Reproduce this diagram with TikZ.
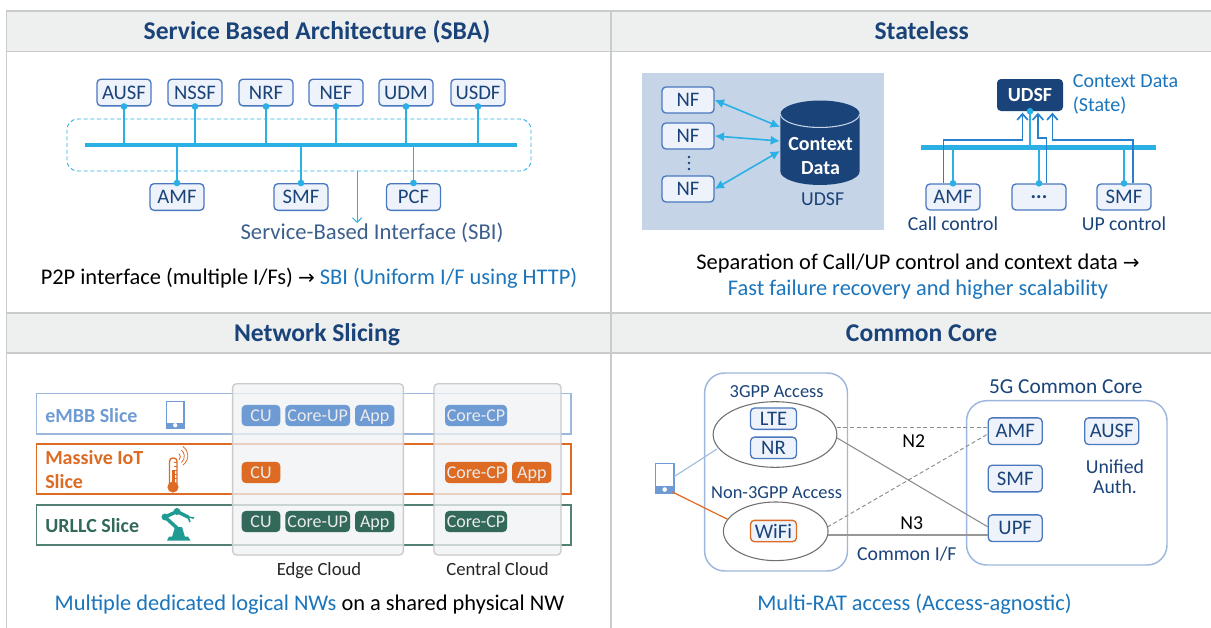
\documentclass[tikz,border=0pt]{standalone}
\usepackage{fontspec}
\setmainfont{Carlito}
\newfontfamily\arrowfont{DejaVu Sans}
\usetikzlibrary{arrows.meta,shapes.geometric,calc}
\definecolor{navy}{HTML}{1A4379}
\definecolor{headfill}{HTML}{EEF0F0}
\definecolor{cloudfill}{HTML}{F1F2F4}
\definecolor{rulegrey}{HTML}{C9CBCC}
\definecolor{busblue}{HTML}{2BB0E6}
\definecolor{txtblue}{HTML}{1A75BC}
\definecolor{wireblue}{HTML}{2680CC}
\definecolor{boxedge}{HTML}{4A78BE}
\definecolor{boxfill}{HTML}{EEF3FB}
\definecolor{panelblue}{HTML}{C5D4E6}
\definecolor{softblue}{HTML}{9DB8DC}
\definecolor{embb}{HTML}{6F9BD4}
\definecolor{iot}{HTML}{DD6B24}
\definecolor{urllc}{HTML}{33695B}
\definecolor{teal}{HTML}{1F9B93}
\definecolor{linegrey}{HTML}{8C8C8C}
\tikzset{
  x=0.75pt,y=-0.75pt,
  body/.style={font=\fontsize{14.8}{18}\selectfont,text=navy,inner sep=0pt},
  title/.style={font=\fontsize{19.2}{22}\selectfont\bfseries,text=navy,inner sep=0pt,text height=12.6pt,text depth=0pt},
  note/.style={font=\fontsize{16.8}{19.5}\selectfont,text=black,inner sep=0pt},
  noteline/.style={note,text height=11pt,text depth=0pt},
  nfbox/.style={draw=boxedge,fill=boxfill,line width=1pt,rounded corners=3pt,minimum width=40.5pt,minimum height=20pt,inner sep=0pt,text=navy,font=\fontsize{15.5}{18}\selectfont},
  sbox/.style={nfbox,minimum width=34.5pt,minimum height=16.2pt},
  tag/.style={rounded corners=3pt,minimum height=15.8pt,inner sep=0pt,text height=8.6pt,text depth=0pt,font=\fontsize{13.5}{16}\selectfont,text=white!92!black},
  dot/.style={circle,fill=busblue,inner sep=0pt,minimum size=5pt},
  conn/.style={draw=busblue,line width=1.3pt},
  ctrl/.style={draw=wireblue,line width=1.25pt,-{Straight Barb[length=4.5pt,width=8pt]}},
  twoway/.style={draw=busblue,line width=1.2pt,{Latex[length=7pt,width=7pt]}-{Latex[length=7pt,width=7pt]}},
  slice/.style={line width=1pt,fill=white},
  cloud/.style={draw=rulegrey,line width=1pt,fill=cloudfill,fill opacity=.75,rounded corners=3pt},
  accessel/.style={ellipse,draw=linegrey!80!black,line width=.8pt,inner sep=0pt},
  slicelab/.style={font=\fontsize{15}{18}\selectfont\bfseries,anchor=west,inner sep=0pt,align=left},
  cloudlab/.style={inner sep=0pt,font=\fontsize{14}{16}\selectfont,text=black!85,text height=9.2pt,text depth=0pt},
}
\newcommand{\rarrow}{{\arrowfont\fontsize{15}{16}\selectfont →}}
\begin{document}
\begin{tikzpicture}
\useasboundingbox (0,0) rectangle (1211,628);
\fill[white] (0,0) rectangle (1211,628);
% frame and headers
\fill[headfill] (6.5,11) rectangle (1211,51.5);
\fill[headfill] (6.5,313) rectangle (1211,353);
\draw[rulegrey,line width=1pt] (1211,11) -- (6.5,11) -- (6.5,628);
\draw[rulegrey,line width=1pt] (6.5,51.5) -- (1211,51.5);
\draw[rulegrey,line width=1pt] (6.5,313) -- (1211,313);
\draw[rulegrey,line width=1pt] (6.5,353) -- (1211,353);
\draw[rulegrey,line width=1pt] (611,11) -- (611,628);
\node[title] (t1) at (317,31) {Service Based Architecture (SBA)};
\node[title] (t2) at (921.6,31) {Stateless};
\node[title] (t3) at (317,333) {Network Slicing};
\node[title] (t4) at (921.6,333) {Common Core};

% ---------- SBA ----------
\draw[busblue,densely dashed,line width=.7pt,rounded corners=8pt] (67,119) rectangle (531,171);
\node[fill=busblue,inner sep=0pt,minimum height=3pt,minimum width=324pt] (bus) at (301,144.5) {};
\node[nfbox] (ausf) at (124,92.5) {AUSF};
\node[nfbox] (nssf) at (195,92.5) {NSSF};
\node[nfbox] (nrf) at (266,92.5) {NRF};
\node[nfbox] (nef) at (336,92.5) {NEF};
\node[nfbox] (udm) at (406,92.5) {UDM};
\node[nfbox] (usdf) at (478,92.5) {USDF};
\node[nfbox] (amf) at (177,197) {AMF};
\node[nfbox] (smf) at (301,197) {SMF};
\node[nfbox] (pcf) at (413.5,197) {PCF};
\foreach \n in {ausf,nssf,nrf,nef,udm,usdf}{
  \draw[conn] (\n.south) -- (\n.south |- bus.center);
  \node[dot] at (\n.south) {};
}
\foreach \n in {amf,smf,pcf}{
  \draw[conn] (\n.north) -- (\n.north |- bus.center);
  \node[dot] at (\n.north) {};
}
\node[body,font=\fontsize{17}{19}\selectfont,text=navy!85!white,text height=11.2pt,text depth=0pt] (sbi) at (372,232) {Service-Based Interface (SBI)};
\coordinate (sbitop) at (357,171);
\coordinate (sbiend) at (357,223);
\draw[busblue,line width=.7pt,-{Straight Barb[length=3.5pt,width=7pt]}] (sbitop) -- (sbiend);
\node[noteline] (p2p) at (309,277) {P2P interface (multiple I/Fs) \rarrow{} \textcolor{txtblue}{SBI (Uniform I/F using HTTP)}};

% ---------- Stateless ----------
\fill[panelblue] (642,73) rectangle (883.6,230);
\node[sbox,minimum width=39pt,minimum height=19.5pt] (nf1) at (688,100) {NF};
\node[sbox,minimum width=39pt,minimum height=19.5pt] (nf2) at (688,136) {NF};
\node[sbox,minimum width=39pt,minimum height=19.5pt] (nf3) at (688,189) {NF};
\fill[navy] (689,157) circle[radius=1.1pt] (689,163) circle[radius=1.1pt] (689,169) circle[radius=1.1pt];
\fill[navy] (780.4,114) -- (780.4,171.5) arc[start angle=180,end angle=360,x radius=29.7pt,y radius=10.1pt] -- (859.7,114) arc[start angle=0,end angle=180,x radius=29.7pt,y radius=10.1pt] -- cycle;
\draw[panelblue,line width=.8pt] (780.4,114) arc[start angle=180,end angle=360,x radius=29.7pt,y radius=10.1pt];
\node[font=\fontsize{15}{18}\selectfont\bfseries,text=white,align=center,inner sep=0pt] (ctx) at (820.5,156) {Context\\Data};
\node[body] (udsflab) at (822.6,199) {UDSF};
\coordinate (cy1) at (780,127);
\coordinate (cy2) at (780,141);
\coordinate (cy3) at (780,151);
\draw[twoway] (nf1.east) -- (cy1);
\draw[twoway] (nf2.east) -- (cy2);
\draw[twoway] (nf3.east) -- (cy3);

\node[fill=busblue,inner sep=0pt,minimum height=3.4pt,minimum width=176.5pt] (bus2) at (1038.3,147.7) {};
\node[rounded corners=3pt,fill=navy,text=white,font=\fontsize{15}{18}\selectfont\bfseries,minimum width=49.5pt,minimum height=24pt,inner sep=0pt] (udsf) at (1030,95) {UDSF};
\node[sbox,minimum width=40.5pt,minimum height=19.5pt] (amf2) at (953,197) {AMF};
\node[sbox,minimum width=40.5pt,minimum height=19.5pt] (more) at (1039,197) {\textbf{...}};
\node[sbox,minimum width=40.5pt,minimum height=19.5pt] (smf2) at (1124,197) {SMF};
\node[body,font=\fontsize{15}{18}\selectfont,text=txtblue,align=left,anchor=west] (state) at (1072.6,94) {Context Data\\(State)};
\node[body] (callc) at (953,224) {Call control};
\node[body] (upc) at (1124,224) {UP control};
\draw[conn] (udsf.south) -- (udsf.south |- bus2.center);
\draw[conn] (amf2.north) -- (amf2.north |- bus2.center);
\draw[conn] (more.north) -- (more.north |- bus2.center);
\draw[conn] (smf2.north) -- (smf2.north |- bus2.center);
\coordinate (a0) at ($(amf2.north)+(-9.4,0)$);
\coordinate (a1) at (1022.5,139.7);
\coordinate (a2) at (1022.5,112.7);
\draw[ctrl] (a0) |- (a1) -- (a2);
\coordinate (m0) at ($(more.north)+(7.6,0)$);
\coordinate (m1) at (1038,138.3);
\coordinate (m2) at (1038,112.7);
\draw[ctrl] (m0) |- (m1) -- (m2);
\coordinate (s0) at ($(smf2.north)+(9,0)$);
\coordinate (s1) at (1052.4,139.7);
\coordinate (s2) at (1052.4,112.7);
\draw[ctrl] (s0) |- (s1) -- (s2);
\node[dot] at (udsf.south) {};
\node[dot] at (amf2.north) {};
\node[dot] at (more.north) {};
\node[dot] at (smf2.north) {};
\node[note,align=center] (sep) at (918,277) {Separation of Call/UP control and context data \rarrow\\\textcolor{txtblue}{Fast failure recovery and higher scalability}};

% ---------- Network slicing ----------
\draw[slice,draw=softblue] (36.6,393.7) rectangle (571,434);
\draw[slice,draw=iot] (36.6,444) rectangle (571,494);
\draw[slice,draw=urllc!85!white] (36.6,505) rectangle (571,545);
\draw[cloud] (232.6,383.7) rectangle (403.4,555);
\draw[cloud] (434,383.7) rectangle (561,555);
\node[slicelab,text=embb] (l1) at (45,416) {eMBB Slice};
\node[slicelab,text=iot] (l2) at (45,470) {Massive IoT\\Slice};
\node[slicelab,text=urllc] (l3) at (45,526) {URLLC Slice};
% phone icon
\draw[embb,line width=1pt,fill=white] (166.5,401.5) rectangle (184,428);
\fill[embb] (166.5,422.5) rectangle (184,428);
\fill[white] (175.2,425.2) circle[radius=1.6pt];
% thermometer icon
\draw[iot,line width=1pt,fill=white,rounded corners=2.5pt] (169.5,484) -- (169.5,458) -- (177,458) -- (177,484);
\fill[iot] (173,487) circle[radius=4.2pt];
\fill[iot] (171.6,470) rectangle (174.6,487);
\foreach \yy in {462,466,470,474,478}{\draw[iot,line width=.5pt] (174,\yy) -- (177,\yy);}
\draw[iot,line width=.6pt] (179,460) arc[start angle=-45,end angle=45,radius=3.5pt];
\draw[iot,line width=.6pt] (181.5,462.5) arc[start angle=-50,end angle=50,radius=6pt];
\draw[iot,line width=.6pt] (183,465) arc[start angle=-55,end angle=55,radius=8.5pt];
% robot icon
\fill[teal] (167,540.5) -- (169,536.5) -- (188,536.5) -- (190.5,540.5) -- cycle;
\fill[teal] (172,537) -- (175,527) -- (182,527) -- (185,537) -- cycle;
\draw[teal,line width=2.6pt,line cap=round] (177,528) -- (165,517) -- (177,511.5) -- (188,517);
\draw[teal,line width=1.2pt] (188,517) -- (194,518) (188,517) -- (190,522);
\fill[teal] (165,517) circle[radius=2.6pt] (177,511.5) circle[radius=2.6pt];
% tags
\node[tag,fill=embb,minimum width=29pt] (e1) at (261,415.5) {CU};
\node[tag,fill=embb,minimum width=48.5pt] (e2) at (317.7,415.5) {Core-UP};
\node[tag,fill=embb,minimum width=29.5pt] (e3) at (374.7,415.5) {App};
\node[tag,fill=embb,minimum width=46.5pt] (e4) at (476,415.5) {Core-CP};
\node[tag,fill=iot,minimum width=29pt] (i1) at (261,472.5) {CU};
\node[tag,fill=iot,minimum width=46.5pt] (i2) at (476,472.5) {Core-CP};
\node[tag,fill=iot,minimum width=29.5pt] (i3) at (531.8,472.5) {App};
\node[tag,fill=urllc,minimum width=29pt] (u1) at (261,521.5) {CU};
\node[tag,fill=urllc,minimum width=48.5pt] (u2) at (317.7,521.5) {Core-UP};
\node[tag,fill=urllc,minimum width=29.5pt] (u3) at (374.7,521.5) {App};
\node[tag,fill=urllc,minimum width=46.5pt] (u4) at (476,521.5) {Core-CP};
\node[cloudlab] (ec) at (319,569) {Edge Cloud};
\node[cloudlab] (cc) at (497.5,569) {Central Cloud};
\node[noteline] (mult) at (309.5,603) {\textcolor{txtblue}{Multiple dedicated logical NWs} on a shared physical NW};

% ---------- Common core ----------
\draw[softblue,line width=1.1pt,rounded corners=15pt] (704.6,373) rectangle (847.5,571);
\draw[softblue,line width=1.1pt,rounded corners=15pt] (966.6,400.7) rectangle (1167,565);
\node[accessel,minimum width=92.8pt,minimum height=49.2pt] (el1) at (775,434.5) {};
\node[accessel,minimum width=78.5pt,minimum height=44pt] (el2) at (775.7,531.3) {};
\node[body,font=\fontsize{13.8}{16}\selectfont] (g3) at (776.6,391.5) {3GPP Access};
\node[body,font=\fontsize{13.8}{16}\selectfont] (ng3) at (776.6,492.7) {Non-3GPP Access};
\node[body,font=\fontsize{16}{18}\selectfont] (cc5) at (1065.8,387) {5G Common Core};
\node[sbox,minimum height=16pt] (lte) at (773.5,418.7) {LTE};
\node[sbox,minimum height=16pt] (nr) at (773.5,447.8) {NR};
\node[sbox,minimum height=16pt,draw=iot] (wifi) at (773.5,531) {WiFi};
\node[nfbox] (camf) at (1015.2,431.2) {AMF};
\node[nfbox] (causf) at (1111.7,431.2) {AUSF};
\node[nfbox] (csmf) at (1015.2,478.5) {SMF};
\node[nfbox] (cupf) at (1015.2,528.2) {UPF};
\node[body,font=\fontsize{14.8}{15}\selectfont,align=center] (ua) at (1115,477) {Unified\\Auth.};
\node[body,text=black] (n2) at (913.7,441) {N2};
\node[body,text=black] (n3) at (911.8,523) {N3};
\node[body] (cif) at (906.8,554) {Common I/F};
\node[noteline,text=txtblue] (mrat) at (914.5,603) {Multi-RAT access (Access-agnostic)};
% UE
\draw[embb,line width=1pt,fill=white] (655.5,463.5) rectangle (674,493);
\fill[embb] (655.5,486) rectangle (674,493);
\fill[white] (664.7,489.5) circle[radius=1.7pt];
\coordinate (ueA) at (674,476.7);
\coordinate (ueB) at (672.4,492);
\coordinate (elA) at (717,449);
\coordinate (elB) at (727.6,519.3);
\draw[softblue,line width=.8pt] (ueA) -- (elA);
\draw[iot,line width=.9pt] (ueB) -- (elB);
% core links
\coordinate (p1) at (836.7,427.7);
\coordinate (p2) at (827.5,527);
\coordinate (p3) at (836.7,437.7);
\coordinate (p4) at (827.5,535);
\draw[linegrey,densely dashed,line width=.8pt] (p1) -- (p1 -| camf.west);
\draw[linegrey,densely dashed,line width=.7pt] (p2) -- ($(camf.west)+(0,3)$);
\draw[linegrey,line width=.8pt] (p3) -- ($(cupf.west)+(0,-1.5)$);
\draw[linegrey!90!white,line width=1.5pt] (p4) -- (p4 -| cupf.west);
\end{tikzpicture}
\end{document}
